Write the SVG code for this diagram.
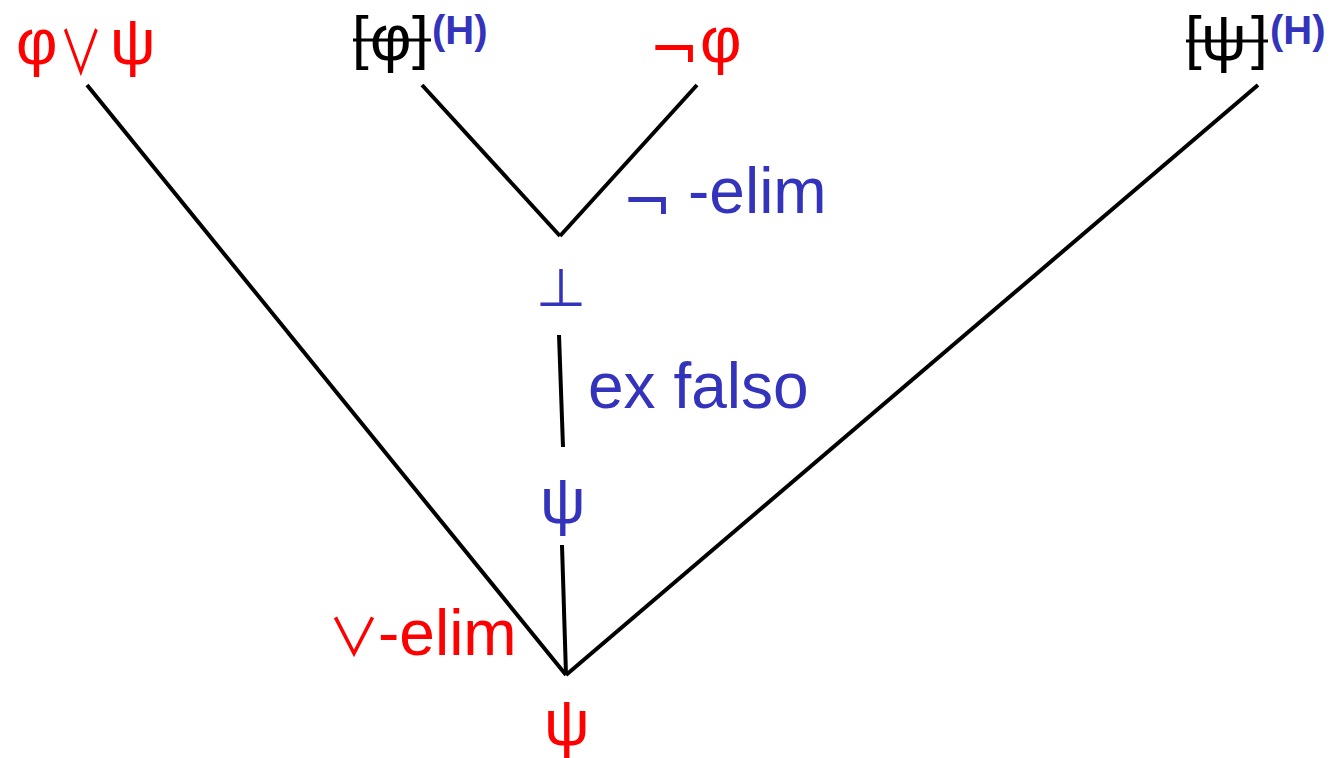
<svg xmlns="http://www.w3.org/2000/svg" width="1334" height="758" viewBox="0 0 1334 758">
<style>
text{font-family:"Liberation Sans",Arial,sans-serif}
.r{fill:#ff0000}
.b{fill:#3333bb}
.k{fill:#000}
.big{font-size:60px}
.g{font-size:64px}
.lab{font-size:64px}
.sym{font-family:"Noto Sans CJK SC","Noto Sans",sans-serif;font-size:52px}
.neg{font-family:"DejaVu Sans",sans-serif;font-size:60px}
.sup{font-size:40px;font-weight:bold}
.e{stroke:#000;stroke-width:4;fill:none;stroke-linecap:butt}
</style>
<rect width="1334" height="758" fill="#fff"/>
<g id="connectors">
<line class="e" x1="87" y1="85" x2="566" y2="675"/>
<line class="e" x1="422" y1="85" x2="560" y2="236"/>
<line class="e" x1="697" y1="85" x2="560" y2="236"/>
<line class="e" x1="559" y1="335" x2="563" y2="447"/>
<line class="e" x1="562" y1="545" x2="566" y2="675"/>
<line class="e" x1="1258" y1="85" x2="566" y2="675"/>
</g>
<g id="n-disj"><text class="r g" x="16" y="64">φ</text><text class="r sym" transform="translate(59,75) scale(0.84,1.18)">∨</text><text class="r g" x="110" y="64">ψ</text></g>
<g id="n-hyp-phi"><text class="k big" x="352" y="58">[</text><text class="k g" x="370" y="60">φ</text><text class="k big" x="412" y="58">]</text><line x1="353" y1="40" x2="431" y2="40" stroke="#000" stroke-width="3"/><text class="b sup" x="432" y="44">(H)</text></g>
<g id="n-negphi"><text class="r neg" x="649" y="71">¬</text><text class="r g" x="700" y="62">φ</text></g>
<g id="n-hyp-psi"><text class="k big" x="1185" y="58">[</text><text class="k g" x="1201" y="60">ψ</text><text class="k big" x="1251" y="58">]</text><line x1="1186" y1="41" x2="1268" y2="41" stroke="#000" stroke-width="3"/><text class="b sup" x="1270" y="44">(H)</text></g>
<g id="l-negelim"><text class="b neg" x="622" y="223">¬</text><text class="b lab" x="688" y="213">-elim</text></g>
<g id="n-bot"><text class="b sym" x="535" y="308" font-size="54">⊥</text></g>
<g id="l-exfalso"><text class="b lab" x="588" y="408">ex falso</text></g>
<g id="n-psi-mid"><text class="b g" x="540" y="523">ψ</text></g>
<g id="l-orelim"><text class="r sym" x="328" y="656">∨</text><text class="r lab" x="378" y="655">-elim</text></g>
<g id="n-psi"><text class="r g" x="544" y="745">ψ</text></g>
</svg>
